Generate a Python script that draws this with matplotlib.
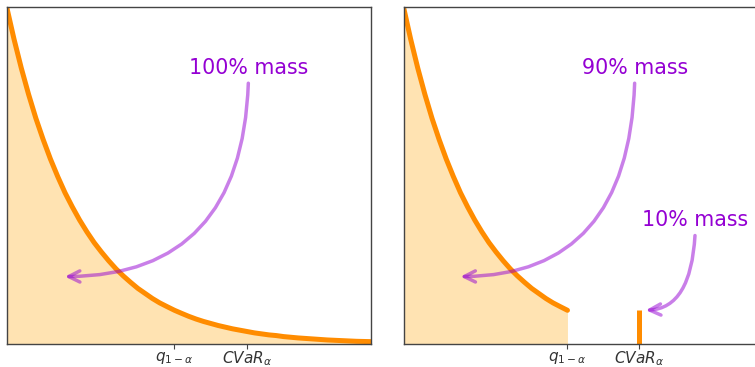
import matplotlib
matplotlib.use("Agg")
import matplotlib.pyplot as plt

# exponential(1) density
pdf_x = [0.0, 0.1, 0.2, 0.3, 0.4, 0.5, 0.6, 0.7, 0.8, 0.9,
         1.0, 1.1, 1.2, 1.3, 1.4, 1.5, 1.6, 1.7, 1.8, 1.9,
         2.0, 2.1, 2.2, 2.303, 2.4, 2.5, 2.6, 2.7, 2.8, 2.9,
         3.0, 3.1, 3.2, 3.3, 3.4, 3.5, 3.6, 3.7, 3.8, 3.9,
         4.0, 4.2, 4.4, 4.6, 4.8, 5.0]
pdf_y = [1.000, 0.905, 0.819, 0.741, 0.670, 0.607, 0.549, 0.497, 0.449, 0.407,
         0.368, 0.333, 0.301, 0.273, 0.247, 0.223, 0.202, 0.183, 0.165, 0.150,
         0.135, 0.122, 0.111, 0.100, 0.091, 0.082, 0.074, 0.067, 0.061, 0.055,
         0.050, 0.045, 0.041, 0.037, 0.033, 0.030, 0.027, 0.025, 0.022, 0.020,
         0.018, 0.015, 0.012, 0.010, 0.008, 0.007]

q_alpha = 2.303      # q_{1-alpha}
cvar_alpha = 3.303   # CVaR_alpha
atom_height = 0.100  # 10% mass drawn as a spike at CVaR

tick_pos = [q_alpha, cvar_alpha]
tick_labels = [r"$q_{1-\alpha}$", r"$CVaR_\alpha$"]

line_c = "darkorange"
fill_c = "orange"
txt_c = "darkviolet"

W, H = 755, 367
fig = plt.figure(figsize=(W / 100, H / 100), dpi=100)
ax1 = fig.add_axes([6.7 / W, 23 / H, 364.3 / W, 337 / H])
ax2 = fig.add_axes([403.5 / W, 23 / H, 356 / W, 337 / H])

arrow_kw = dict(arrowstyle="->", color=txt_c, alpha=0.5, lw=2.5,
                mutation_scale=20, connectionstyle="angle3,angleA=90,angleB=0")

# ---- left: full density ----
ax1.fill_between(pdf_x, 0, pdf_y, color=fill_c, alpha=0.3, lw=0)
ax1.plot(pdf_x, pdf_y, color=line_c, lw=3.6)
ax1.annotate("100% mass", xy=(0.76, 0.2), xytext=(3.32, 0.82),
             ha="center", va="center", fontsize=14.8, color=txt_c,
             arrowprops=arrow_kw)

# ---- right: truncated density + atom at CVaR ----
cut_x = [x for x in pdf_x if x <= q_alpha]
cut_y = pdf_y[:len(cut_x)]
ax2.fill_between(cut_x, 0, cut_y, color=fill_c, alpha=0.3, lw=0)
ax2.plot(cut_x, cut_y, color=line_c, lw=3.6, solid_capstyle="round")
ax2.plot([cvar_alpha, cvar_alpha], [0, atom_height], color=line_c, lw=3.6,
         solid_capstyle="butt")
ax2.annotate("90% mass", xy=(0.76, 0.2), xytext=(3.25, 0.82),
             ha="center", va="center", fontsize=14.8, color=txt_c,
             arrowprops=arrow_kw)
ax2.annotate("10% mass", xy=(cvar_alpha + 0.06, atom_height), xytext=(4.1, 0.368),
             ha="center", va="center", fontsize=14.8, color=txt_c,
             arrowprops=arrow_kw)

for ax in (ax1, ax2):
    ax.set_xlim(0, 5)
    ax.set_ylim(0, 1)
    ax.set_yticks([])
    ax.set_xticks(tick_pos)
    ax.set_xticklabels(tick_labels, fontsize=11, color="#333333")
    ax.tick_params(axis="x", length=3.5, pad=0.5, color="#444444")
    for s in ax.spines.values():
        s.set_color("#444444")
        s.set_linewidth(1.0)

fig.savefig("out.png", dpi=100)
